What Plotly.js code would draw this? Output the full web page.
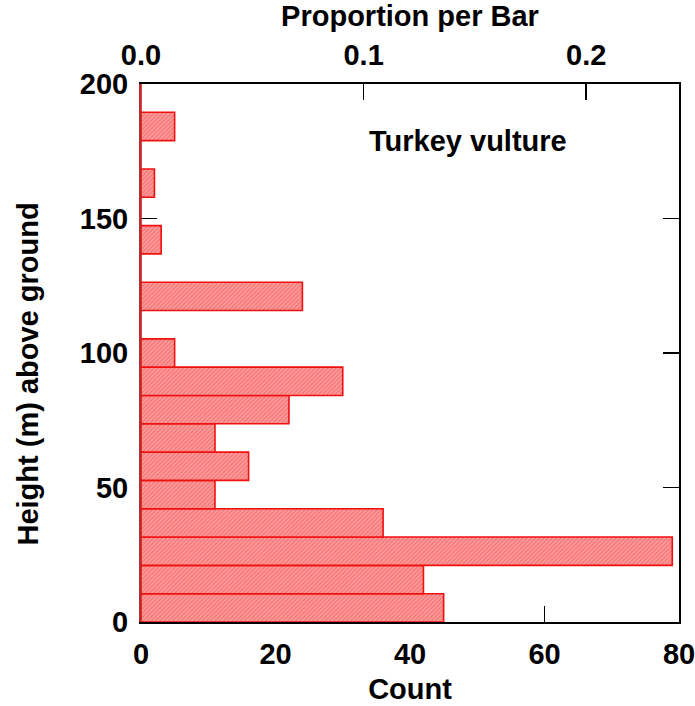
<!DOCTYPE html>
<html>
<head>
<meta charset="utf-8">
<script src="https://cdn.plot.ly/plotly-3.0.1.min.js"></script>
<style>
  html, body { margin: 0; padding: 0; background: #fff; }
  #chart { width: 695px; height: 706px; }
</style>
</head>
<body>
<div id="chart"></div>
<script>
// Height bins: 19 equal bins spanning 0–200 m
const binStart = 0;
const binEnd = 200;
const binCount = 19;
// Number of observations in each height bin (lowest bin first)
const counts = [45, 42, 79, 36, 11, 16, 11, 22, 30, 5, 0, 24, 0, 3, 0, 2, 0, 5, 0];

const yTicks = [0, 50, 100, 150, 200];
const xTicks = [0, 20, 40, 60, 80];
const propTicks = [0.0, 0.1, 0.2];
const propTickText = ['0.0', '0.1', '0.2'];
const countMax = 80;

const binWidth = (binEnd - binStart) / binCount;
const centers = counts.map((_, i) => binStart + binWidth * (i + 0.5));
const total = counts.reduce((a, b) => a + b, 0);
const proportions = counts.map(c => c / total);

const FONT = 'Liberation Sans, Arial, Helvetica, sans-serif';
const fs = 29;

const bars = {
  type: 'bar',
  orientation: 'h',
  x: counts,
  y: centers,
  width: binWidth,
  xaxis: 'x',
  yaxis: 'y',
  marker: {
    color: '#ff9494',
    line: { color: '#f01010', width: 1.6 },
    pattern: { shape: '/', fgcolor: '#f27272', bgcolor: '#ff9c9c', size: 3, solidity: 0.4 }
  },
  hoverinfo: 'x+y'
};

// Same bars expressed as proportions, carried on the top axis
const propTrace = {
  type: 'scatter',
  mode: 'none',
  x: proportions,
  y: centers,
  xaxis: 'x2',
  yaxis: 'y',
  hoverinfo: 'skip',
  showlegend: false
};

// Right-hand frame with tick marks only
const rightTrace = {
  type: 'scatter',
  mode: 'none',
  x: counts,
  y: centers,
  xaxis: 'x',
  yaxis: 'y2',
  hoverinfo: 'skip',
  showlegend: false
};

const tickFont = { family: FONT, size: fs, color: '#000', weight: 'bold' };
const titleFont = { family: FONT, size: fs, color: '#000', weight: 'bold' };

const layout = {
  width: 695,
  height: 706,
  margin: { l: 141, r: 16, t: 84, b: 84, pad: 0 },
  paper_bgcolor: '#fff',
  plot_bgcolor: '#fff',
  showlegend: false,
  bargap: 0,
  xaxis: {
    range: [0, countMax],
    tickvals: xTicks,
    ticks: 'inside',
    ticklen: 16,
    tickwidth: 1.5,
    tickcolor: '#000',
    showline: true,
    linecolor: '#000',
    linewidth: 2,
    layer: 'below traces',
    showgrid: false,
    zeroline: false,
    tickfont: tickFont,
    ticklabelstandoff: 5,
    ticklabeloverflow: 'allow',
    title: { text: 'Count', font: titleFont, standoff: 10 },
    fixedrange: true
  },
  xaxis2: {
    overlaying: 'x',
    side: 'top',
    anchor: 'y',
    range: [0, countMax / total],
    tickvals: propTicks,
    ticktext: propTickText,
    ticks: 'inside',
    ticklen: 16,
    tickwidth: 1.5,
    tickcolor: '#000',
    showline: true,
    linecolor: '#000',
    linewidth: 2,
    showgrid: false,
    zeroline: false,
    tickfont: tickFont,
    ticklabelstandoff: 5,
    ticklabeloverflow: 'allow',
    title: { text: 'Proportion per Bar', font: titleFont, standoff: 6 },
    fixedrange: true
  },
  yaxis: {
    range: [binStart, binEnd],
    tickvals: yTicks,
    ticks: 'inside',
    ticklen: 16,
    tickwidth: 1.5,
    tickcolor: '#000',
    showline: true,
    linecolor: '#b03030',
    linewidth: 2,
    layer: 'below traces',
    showgrid: false,
    zeroline: false,
    tickfont: tickFont,
    ticklabelstandoff: 5,
    ticklabeloverflow: 'allow',
    fixedrange: true
  },
  yaxis2: {
    overlaying: 'y',
    side: 'right',
    anchor: 'x',
    range: [binStart, binEnd],
    tickvals: yTicks,
    ticks: 'inside',
    ticklen: 16,
    tickwidth: 1.5,
    tickcolor: '#000',
    showticklabels: false,
    showline: true,
    linecolor: '#000',
    linewidth: 2,
    showgrid: false,
    zeroline: false,
    fixedrange: true
  },
  annotations: [
    {
      text: 'Turkey vulture',
      xref: 'paper', yref: 'paper',
      x: 0.608, y: 0.894,
      xanchor: 'center', yanchor: 'middle',
      showarrow: false,
      font: { family: FONT, size: fs, color: '#000', weight: 'bold' }
    },
    {
      text: 'Height (m) above ground',
      xref: 'paper', yref: 'paper',
      x: 0, y: 0.46,
      xshift: -113,
      xanchor: 'center', yanchor: 'middle',
      textangle: -90,
      showarrow: false,
      font: { family: FONT, size: fs, color: '#000', weight: 'bold' }
    }
  ]
};

Plotly.newPlot('chart', [bars, propTrace, rightTrace], layout, { displayModeBar: false, staticPlot: true });
</script>
</body>
</html>
